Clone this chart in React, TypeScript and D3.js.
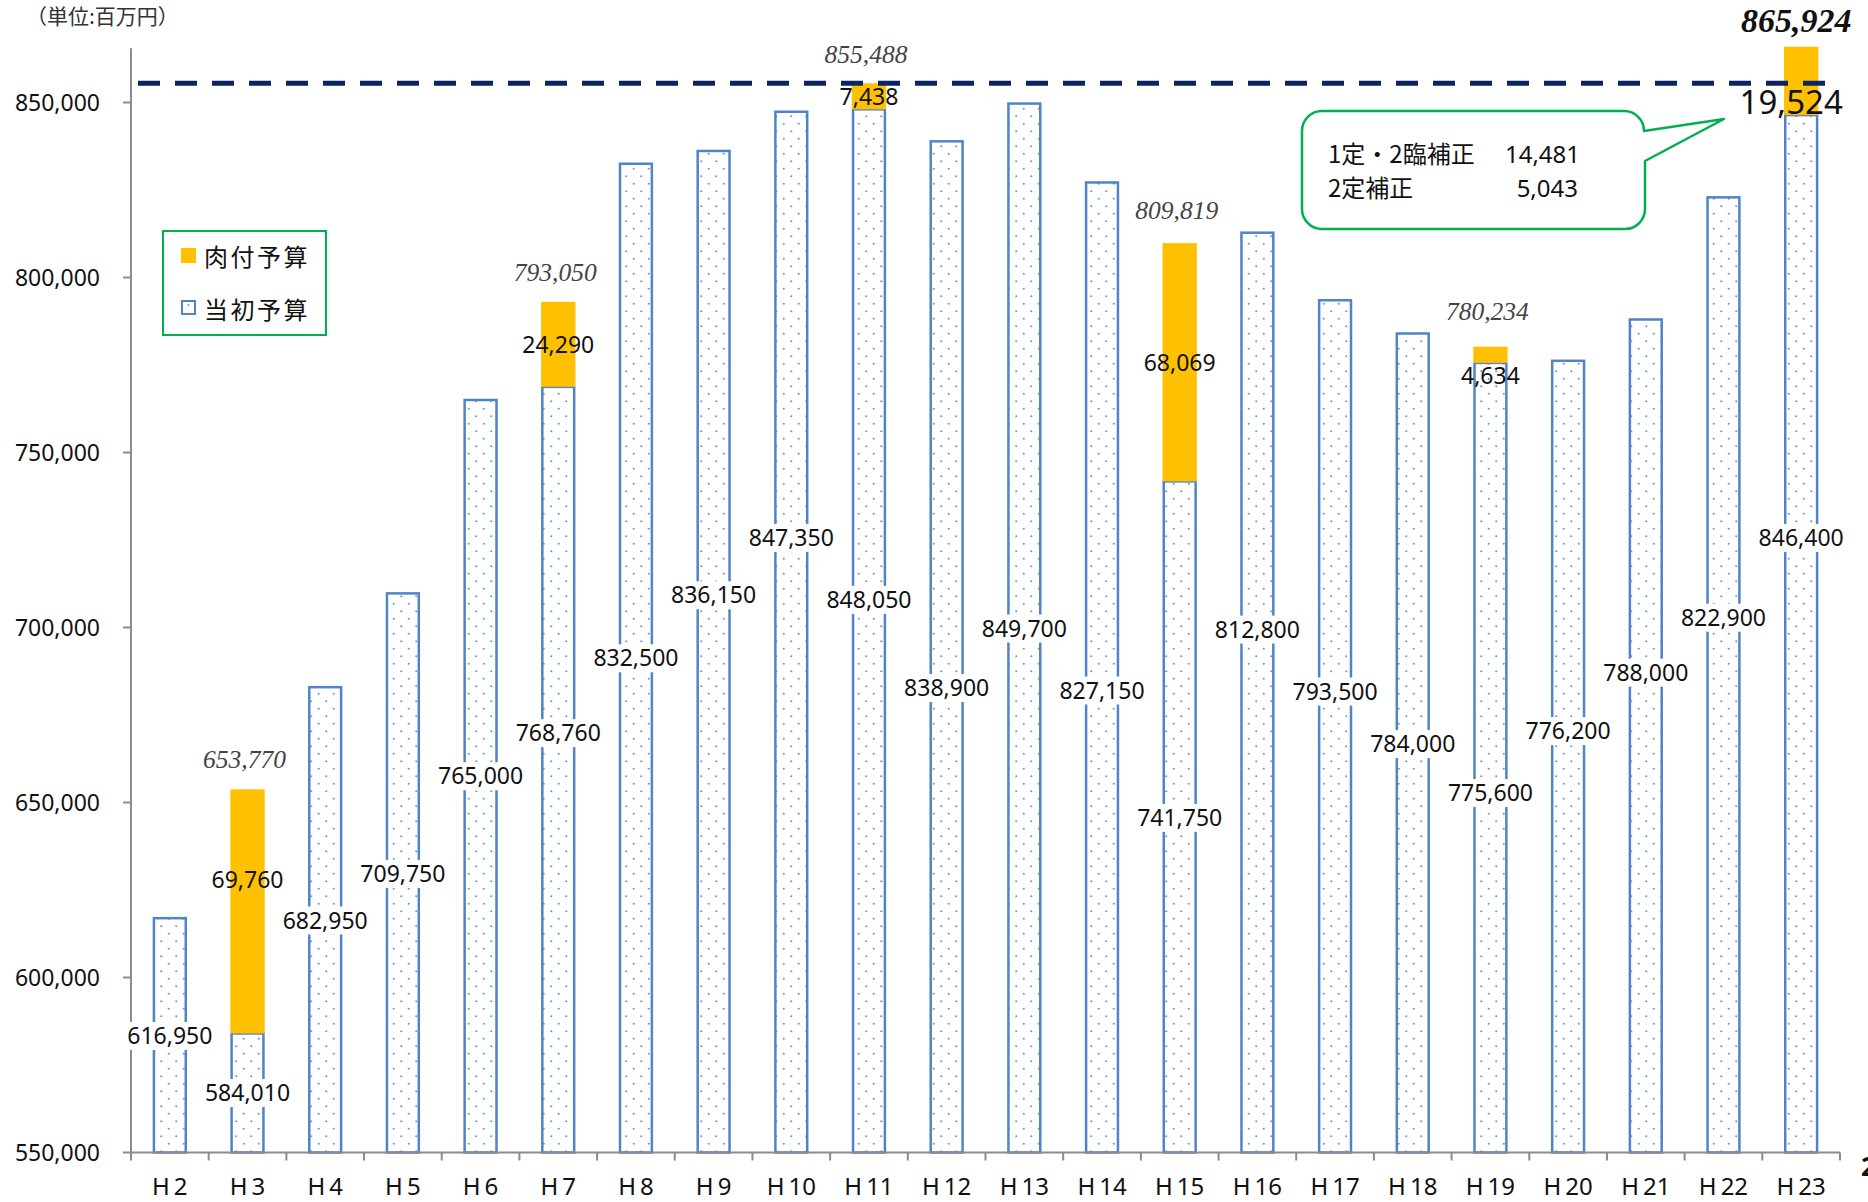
import React from "react";
import * as d3 from "d3";

const categories = ["H2","H3","H4","H5","H6","H7","H8","H9","H10","H11","H12","H13","H14","H15","H16","H17","H18","H19","H20","H21","H22","H23"];
const initialBudget = [616950,584010,682950,709750,765000,768760,832500,836150,847350,848050,838900,849700,827150,741750,812800,793500,784000,775600,776200,788000,822900,846400];
const supplementaryBudget = [0,69760,0,0,0,24290,0,0,0,7438,0,0,0,68069,0,0,0,4634,0,0,0,19524];
const yTicks = [550000,600000,650000,700000,750000,800000,850000];
const referenceValue = 855488;
const legendLabels = ["肉付予算","当初予算"];
const unitLabel = "（単位:百万円）";
const calloutRows = [["1定・2臨補正","14,481"],["2定補正","5,043"]];

// label anchor values (data units) where labels are centred
const initialLabelAt = [583300,567000,616300,629600,657500,669800,691200,709200,725600,707900,682700,699700,682000,645600,699400,681700,666700,652700,670400,687100,702800,725600];
const suppLabelAt = [0,627900,0,0,0,780700,0,0,0,851500,0,0,0,775600,0,0,0,771900,0,0,0,850100];
const totalLabelAt = [0,662300,0,0,0,801500,0,0,0,863800,0,0,0,819200,0,0,0,790300,0,0,0,873600];

const W = 1868, H = 1202;
const left = 131, right = 1840, base = 1152.5;
const fmt = d3.format(",");

export default function App() {
  const x = d3.scaleBand<string>().domain(categories).range([left, right]).paddingInner(0.59).paddingOuter(0.295);
  const y = d3.scaleLinear().domain([550000, 850000]).range([base, 102.5]);
  const step = x.step();
  const bw = x.bandwidth();
  const numFont = "'Noto Sans', 'Noto Sans CJK JP', sans-serif";
  const jpFont = "'Noto Sans CJK JP', 'Noto Sans', sans-serif";
  const serif = "'Liberation Serif', 'DejaVu Serif', serif";
  const blue = "#4F84C6";
  const lastIdx = categories.length - 1;

  return (
    <svg width={W} height={H} style={{ position: "absolute", left: 0, top: 0, background: "#fff" }}>
      <defs>
        <pattern id="dots" patternUnits="userSpaceOnUse" width={15} height={15}>
          <rect width={15} height={15} fill="#fff" />
          <circle cx={3.75} cy={3.75} r={1.1} fill="#6F9AD3" />
          <circle cx={11.25} cy={11.25} r={1.1} fill="#6F9AD3" />
        </pattern>
      </defs>

      <text x={26} y={24} fontSize={21} fontFamily={jpFont} fill="#333">{unitLabel}</text>

      {/* axes */}
      <line x1={left} x2={left} y1={y(865500)} y2={base} stroke="#8C8C8C" strokeWidth={2} />
      {yTicks.map(t => (
        <g key={t}>
          <line x1={123} x2={left} y1={y(t)} y2={y(t)} stroke="#8C8C8C" strokeWidth={2} />
          <text x={100} y={y(t)} dy="0.35em" textAnchor="end" fontSize={23} fontFamily={numFont} fill="#111">{fmt(t)}</text>
        </g>
      ))}

      {/* bars */}
      {categories.map((c, i) => {
        const x0 = x(c)!;
        const top = y(initialBudget[i]);
        return (
          <g key={c}>
            <rect x={x0} y={top} width={bw} height={base - top} fill="url(#dots)" stroke={blue} strokeWidth={2.5} />
            {supplementaryBudget[i] > 0 && (
              <rect x={x0 - 1.25} y={y(initialBudget[i] + supplementaryBudget[i])} width={bw + 2.5}
                height={y(initialBudget[i]) - y(initialBudget[i] + supplementaryBudget[i])} fill="#FFC000" />
            )}
          </g>
        );
      })}

      <line x1={left} x2={right} y1={base} y2={base} stroke="#8C8C8C" strokeWidth={2} />
      {d3.range(categories.length + 1).map(i => (
        <line key={i} x1={left + i * step} x2={left + i * step} y1={base} y2={base + 8} stroke="#8C8C8C" strokeWidth={2} />
      ))}
      {categories.map(c => (
        <text key={c} x={x(c)! + bw / 2} y={1195} textAnchor="middle" fontSize={24} fontFamily={numFont} fill="#111">
          <tspan>H</tspan><tspan dx={4}>{c.slice(1)}</tspan>
        </text>
      ))}

      {/* reference dashed line */}
      <line x1={138} x2={right} y1={y(referenceValue)} y2={y(referenceValue)} stroke="#0C2461" strokeWidth={5} strokeDasharray="22 15" />

      {/* labels */}
      {categories.map((c, i) => {
        const cx = x(c)! + bw / 2;
        const txt = fmt(initialBudget[i]);
        const tw = txt.length * 12.3;
        const ly = y(initialLabelAt[i]);
        const isLast = i === lastIdx;
        return (
          <g key={"l" + c}>
            <rect x={cx - tw / 2 - 2} y={ly - 14} width={tw + 4} height={28} fill="#fff" />
            <text x={cx} y={ly} dy="0.35em" textAnchor="middle" fontSize={23} fontFamily={numFont} fill="#111">{txt}</text>
            {supplementaryBudget[i] > 0 && (
              <text x={isLast ? cx - 10 : cx} y={y(suppLabelAt[i])} dy="0.35em" textAnchor="middle"
                fontSize={isLast ? 33 : 23} fontFamily={numFont} fill="#111">{fmt(supplementaryBudget[i])}</text>
            )}
            {supplementaryBudget[i] > 0 && (
              <text x={isLast ? cx - 5 : cx - 3} y={y(totalLabelAt[i])} dy="0.35em" textAnchor="middle" fontStyle="italic"
                fontWeight={isLast ? "bold" : "normal"}
                fontSize={isLast ? 34 : 25.5} fontFamily={serif} fill={isLast ? "#111" : "#444"}>
                {fmt(initialBudget[i] + supplementaryBudget[i])}
              </text>
            )}
          </g>
        );
      })}

      {/* legend */}
      <rect x={163} y={231} width={163} height={104} fill="#fff" stroke="#00B050" strokeWidth={2} />
      <rect x={181} y={248} width={15} height={15} fill="#FFC000" />
      <text x={204} y={266} fontSize={24} letterSpacing={2.5} fontFamily={jpFont} fill="#111">{legendLabels[0]}</text>
      <rect x={182} y={301} width={13} height={13} fill="#fff" stroke={blue} strokeWidth={2} />
      <circle cx={188.5} cy={305} r={1} fill="#6F9AD3" />
      <text x={204} y={319} fontSize={24} letterSpacing={2.5} fontFamily={jpFont} fill="#111">{legendLabels[1]}</text>

      {/* callout */}
      <path d={`M1322,111 H1624 A20,20 0 0 1 1644,131 L1724,119 L1645,161 V209 A20,20 0 0 1 1624,229 H1322 A20,20 0 0 1 1302,209 V131 A20,20 0 0 1 1322,111 Z`}
        fill="#fff" stroke="#00B050" strokeWidth={2.5} strokeLinejoin="round" />
      {calloutRows.map((r, i) => (
        <g key={i}>
          <text x={1328} y={163 + i * 34} fontSize={24} fontFamily={jpFont} fill="#111">{r[0]}</text>
          <text x={1580 - i * 2} y={163 + i * 34} textAnchor="end" fontSize={24} fontFamily={numFont} fill="#111">{r[1]}</text>
        </g>
      ))}

      <text x={1861} y={1176} fontSize={26} fontWeight="bold" fontFamily={numFont} fill="#111">2</text>
    </svg>
  );
}
